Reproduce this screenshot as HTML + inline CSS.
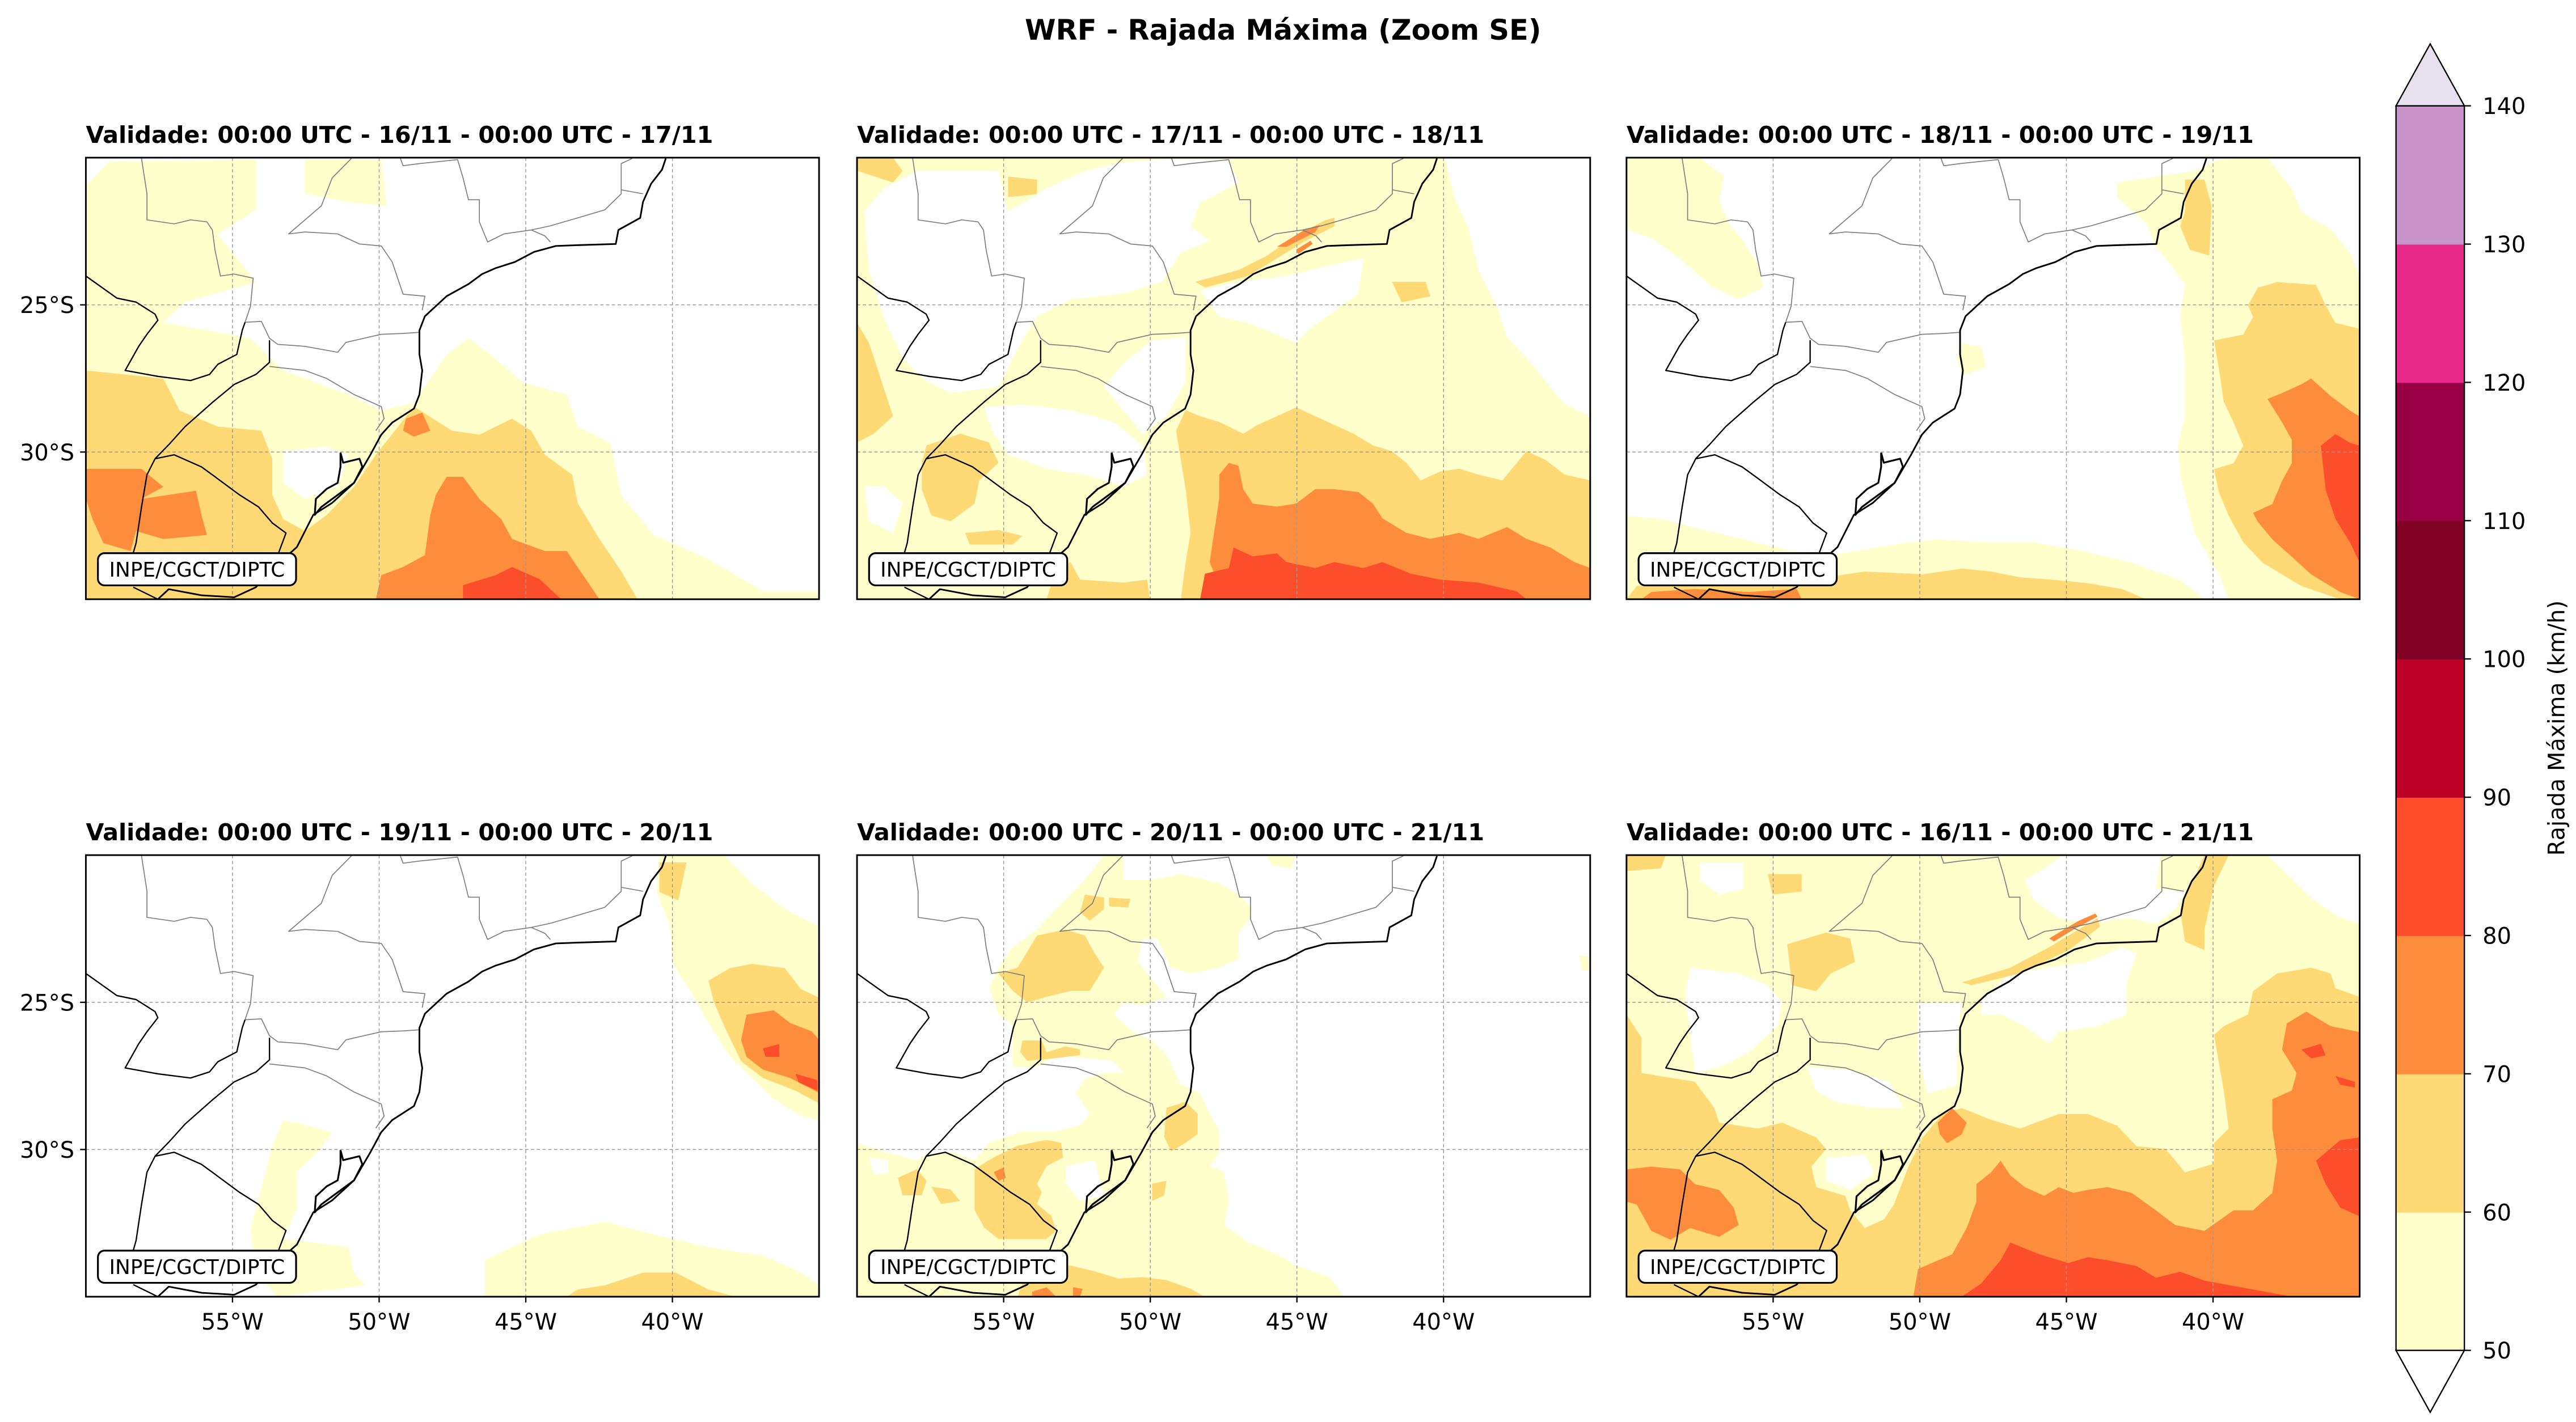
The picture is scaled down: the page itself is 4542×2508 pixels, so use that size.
<!DOCTYPE html>
<html><head><meta charset="utf-8"><title>WRF - Rajada Máxima (Zoom SE)</title>
<style>html,body{margin:0;padding:0;background:#fff;overflow:hidden}svg{display:block;font-family:"DejaVu Sans","Liberation Sans",sans-serif}</style>
</head><body>
<svg id="fig" width="4542" height="2508" viewBox="0 0 1560 861.4" preserveAspectRatio="none" xmlns="http://www.w3.org/2000/svg">
<rect width="1560" height="861.4" fill="#fff"/>
<text x="777" y="24" text-anchor="middle" font-size="17" font-weight="bold">WRF - Rajada Máxima (Zoom SE)</text>
<g id="panels"></g>
<g id="cbar"></g>
</svg>
<script>
// ---- colorbar data ----
const levels=[50,60,70,80,90,100,110,120,130,140];
const levelColors=["#ffffcc","#fed976","#fd8d3c","#fc4e2a","#bd0026","#800026","#980043","#e7298a","#c994c7"];
const overColor="#e7e1ef";
const lonTicks=[-55,-50,-45,-40];
const latTicks=[-25,-30];
const lonRange=[-60,-35], latRange=[-20,-35];
const panelTitles=["Validade: 00:00 UTC - 16/11 - 00:00 UTC - 17/11","Validade: 00:00 UTC - 17/11 - 00:00 UTC - 18/11","Validade: 00:00 UTC - 18/11 - 00:00 UTC - 19/11","Validade: 00:00 UTC - 19/11 - 00:00 UTC - 20/11","Validade: 00:00 UTC - 20/11 - 00:00 UTC - 21/11","Validade: 00:00 UTC - 16/11 - 00:00 UTC - 21/11"];
const PX=[52,519,985], PY=[95.5,518], PW=444, PH=267.5;
// geography (reference-frame coords)
const coast=[[1222,112],[1215,140],[1195,175],[1180,220],[1175,260],[1135,290],[1130,325],[1060,328],[1020,330],[980,345],[945,370],[910,385],[885,400],[860,425],[820,455],[800,480],[780,505],[770,540],[770,600],[775,640],[770,700],[760,735],[720,770],[700,800],[680,850],[650,920],[610,970],[575,1000],[545,1080],[520,1110],[500,1135],[470,1180],[430,1205],[370,1200],[310,1185],[290,1210]];
const lagoon=[[625,845],[630,870],[660,860],[665,880],[650,920],[620,950],[590,980],[578,1000],[580,960],[600,935],[620,920],[625,880],[625,845]];
const borderBlack=[
[[158,405],[215,460],[250,470],[285,500],[290,515],[270,550],[255,580],[230,640],[290,655],[350,665],[385,650],[400,625],[435,600],[445,540],[450,520]],
[[495,565],[495,620],[470,650],[430,675],[390,720],[340,780],[310,825],[285,860],[270,900],[260,980],[250,1070],[245,1095]],
[[285,860],[320,850],[370,880],[395,905],[440,950],[475,980],[500,1020],[525,1045],[510,1100],[505,1130]],
[[245,1180],[290,1210]]];
const borderGray=[
[[450,520],[460,480],[465,410],[430,400],[405,405],[395,340],[390,290],[380,270],[350,265],[320,275],[270,265],[270,200],[260,112]],
[[450,520],[480,518],[495,560],[510,575],[560,580],[620,595],[635,570],[700,550],[740,548],[770,545]],
[[495,630],[560,640],[600,660],[650,700],[700,730],[705,760],[690,790]],
[[775,490],[780,455],[740,450],[720,370],[700,330],[660,325],[620,300],[560,295],[530,300],[590,230],[610,160],[645,112]],
[[735,112],[740,130],[770,125],[840,115],[850,160],[860,215],[880,215],[880,270],[895,320],[925,300],[975,290],[1010,280],[1060,260],[1110,240],[1140,200],[1140,125],[1160,112]],
[[1140,190],[1180,200]],[[975,290],[1000,305],[1010,320]]];
// wind gust fields per panel: [frame, levelIndex(-1 = below 50), points]
const fields=[
[["z1",0,[[158,180],[200,120],[470,115],[470,240],[400,300],[470,420],[340,470],[300,520],[460,560],[520,640],[640,700],[700,740],[760,720],[820,600],[860,560],[900,600],[960,670],[1040,700],[1060,780],[1120,820],[1140,950],[1200,1050],[1300,1110],[1400,1190],[1503,1190],[1503,1210],[158,1210]]],
 ["z1",0,[[560,115],[700,115],[710,230],[640,220],[560,200]]],
 ["z1",-1,[[520,840],[600,830],[640,850],[620,930],[560,960],[520,920]]],
 ["z1",1,[[158,640],[300,660],[330,740],[400,780],[480,790],[500,860],[500,950],[520,1010],[560,1040],[600,1000],[650,930],[690,850],[760,730],[830,790],[880,800],[940,760],[975,790],[1000,850],[1050,900],[1060,970],[1100,1060],[1140,1140],[1170,1210],[158,1210]]],
 ["z1",2,[[800,1210],[690,1210],[700,1150],[740,1130],[780,1100],[790,1000],[800,950],[820,905],[850,905],[880,960],[920,1010],[940,1060],[1000,1090],[1040,1090],[1070,1150],[1100,1210]]],
 ["z1",2,[[158,885],[260,885],[300,930],[260,960],[360,940],[370,1000],[380,1050],[300,1060],[250,1040],[240,1090],[190,1070],[170,1010],[158,960]]],
 ["z1",2,[[745,760],[775,745],[790,790],[760,805],[740,790]]],
 ["z1",3,[[850,1210],[850,1175],[910,1150],[940,1130],[990,1160],[1030,1210]]]],
[["A",0,[[5,15],[1533,15],[1533,1527],[5,1527]]],
 ["A",-1,[[1230,15],[1533,15],[1533,900],[1480,860],[1440,780],[1400,700],[1360,630],[1340,530],[1300,400],[1280,260],[1250,150]]],
 ["A",-1,[[130,60],[300,60],[320,200],[400,120],[480,60],[560,30],[650,20],[780,20],[800,100],[720,170],[700,250],[740,300],[680,340],[640,440],[560,480],[450,500],[380,560],[350,640],[330,700],[300,800],[200,820],[150,780],[100,700],[60,560],[30,400],[20,200],[60,120]]],
 ["A",-1,[[620,640],[690,630],[690,780],[650,900],[600,960],[560,880],[520,800],[560,720]]],
 ["A",-1,[[270,870],[350,860],[450,880],[540,920],[600,1000],[610,1100],[560,1140],[480,1100],[400,1080],[320,1030],[290,960]]],
 ["A",-1,[[720,470],[800,440],[900,420],[1000,380],[1060,360],[1050,480],[1000,540],[950,600],[920,650],[880,620],[820,580],[760,560]]],
 ["A",-1,[[20,1140],[60,1140],[100,1200],[80,1300],[30,1260]]],
 ["A",1,[[5,580],[30,650],[60,800],[80,900],[40,960],[5,990]]],
 ["A",1,[[150,1000],[220,960],[280,990],[300,1060],[260,1120],[250,1200],[200,1260],[160,1240],[140,1150],[140,1060]]],
 ["A",1,[[230,1300],[300,1290],[350,1310],[330,1340],[240,1340]]],
 ["A",1,[[400,1527],[420,1420],[450,1400],[470,1460],[560,1470],[610,1460],[615,1527]]],
 ["A",1,[[680,1527],[690,1400],[700,1300],[690,1150],[680,1050],[670,950],[690,880],[720,900],[760,920],[810,960],[840,930],[880,900],[920,870],[960,900],[1000,930],[1040,960],[1080,1000],[1120,1020],[1150,1060],[1180,1120],[1220,1090],[1260,1080],[1300,1100],[1350,1120],[1400,1020],[1440,1050],[1480,1100],[1533,1120],[1533,1527]]],
 ["A",1,[[710,440],[800,400],[860,350],[920,280],[980,230],[1000,220],[1000,250],[940,300],[880,360],[820,420],[730,460]]],
 ["A",1,[[5,15],[80,15],[100,60],[80,100],[5,60]]],
 ["A",1,[[320,80],[380,90],[380,140],[320,150]]],
 ["A",1,[[1120,440],[1190,440],[1200,490],[1140,510]]],
 ["A",2,[[770,1527],[740,1400],[750,1290],[760,1180],[760,1100],[780,1060],[800,1070],[810,1150],[830,1200],[880,1210],[920,1200],[960,1150],[1000,1150],[1050,1160],[1080,1200],[1100,1250],[1150,1300],[1200,1320],[1260,1300],[1300,1320],[1360,1280],[1400,1320],[1450,1350],[1500,1400],[1533,1420],[1533,1527]]],
 ["A",2,[[880,320],[940,260],[970,245],[960,270],[900,320]]],
 ["A",2,[[920,330],[950,300],[955,310],[925,345]]],
 ["A",3,[[720,1527],[730,1440],[780,1420],[790,1350],[830,1380],[880,1370],[900,1400],[960,1420],[1000,1400],[1060,1420],[1100,1400],[1160,1440],[1220,1460],[1300,1470],[1380,1500],[1400,1527]]]],
[["B",0,[[9,15],[160,15],[210,80],[200,160],[220,240],[250,300],[280,380],[290,460],[240,500],[180,450],[120,360],[60,290],[9,260]]],
 ["B",0,[[1020,100],[1100,80],[1180,60],[1230,20],[1330,15],[1380,120],[1400,200],[1460,260],[1500,340],[1520,420],[1520,1525],[1250,1525],[1230,1440],[1180,1300],[1150,1100],[1145,1000],[1160,900],[1160,700],[1150,560],[1160,450],[1130,380],[1100,320],[1080,240],[1020,150]]],
 ["B",0,[[9,1240],[80,1250],[150,1280],[250,1320],[350,1360],[450,1370],[550,1340],[650,1320],[750,1330],[850,1330],[950,1360],[1050,1400],[1150,1460],[1200,1525],[9,1525]]],
 ["B",0,[[700,650],[740,660],[750,730],[700,760],[690,700]]],
 ["B",1,[[1160,90],[1200,90],[1215,180],[1210,350],[1170,330],[1150,250],[1160,200]]],
 ["B",1,[[1290,520],[1310,460],[1350,440],[1430,450],[1450,520],[1470,580],[1520,600],[1520,1525],[1480,1525],[1400,1480],[1320,1400],[1280,1330],[1250,1240],[1230,1160],[1220,1080],[1260,1060],[1280,1000],[1260,920],[1240,850],[1230,740],[1220,640],[1280,620],[1300,560]]],
 ["B",1,[[9,1525],[30,1480],[100,1460],[300,1470],[420,1450],[500,1430],[620,1440],[700,1420],[760,1430],[820,1450],[900,1460],[960,1470],[1030,1490],[1080,1525]]],
 ["B",2,[[1330,840],[1360,820],[1400,790],[1420,770],[1460,830],[1500,880],[1520,900],[1520,1525],[1480,1500],[1420,1440],[1380,1380],[1340,1320],[1310,1260],[1300,1230],[1340,1200],[1360,1120],[1380,1060],[1380,980],[1360,920]]],
 ["B",2,[[40,1525],[60,1500],[150,1490],[260,1500],[360,1490],[370,1525]]],
 ["B",3,[[1440,1000],[1470,960],[1500,990],[1520,1000],[1520,1400],[1500,1330],[1470,1250],[1450,1150]]]],
[["z2",0,[[1210,215],[1270,215],[1330,215],[1380,280],[1440,340],[1500,380],[1503,840],[1470,830],[1420,790],[1380,740],[1340,690],[1300,610],[1270,540],[1235,470],[1230,380],[1205,300]]],
 ["z2",0,[[890,1257],[890,1170],[990,1110],[1110,1080],[1200,1110],[1300,1140],[1400,1160],[1470,1200],[1503,1230],[1503,1257]]],
 ["z2",0,[[520,840],[560,850],[610,870],[580,920],[545,960],[545,1050],[520,1120],[640,1140],[650,1200],[670,1230],[510,1257],[470,1200],[460,1100],[480,1000],[500,900]]],
 ["z2",1,[[1300,510],[1340,480],[1380,470],[1440,480],[1470,530],[1503,550],[1503,800],[1460,770],[1400,740],[1360,700],[1330,620],[1310,560]]],
 ["z2",1,[[1210,230],[1260,230],[1245,320],[1210,300]]],
 ["z2",1,[[1040,1257],[1060,1240],[1110,1230],[1180,1200],[1240,1200],[1300,1240],[1350,1257]]],
 ["z2",2,[[1370,590],[1420,580],[1450,610],[1490,630],[1503,650],[1503,775],[1450,740],[1400,720],[1370,690],[1360,650]]],
 ["z2",3,[[1400,670],[1430,660],[1430,690],[1405,690]]],
 ["z2",3,[[1460,730],[1500,745],[1500,770],[1465,750]]]],
[["A",0,[[520,15],[560,15],[560,100],[620,100],[680,80],[760,110],[800,150],[830,200],[820,240],[800,280],[800,370],[760,400],[700,420],[660,400],[630,300],[600,300],[590,380],[620,440],[650,500],[600,530],[560,520],[540,560],[580,620],[620,650],[650,700],[680,800],[720,830],[740,900],[760,960],[760,1030],[740,1080],[770,1100],[780,1200],[770,1280],[820,1340],[880,1380],[920,1420],[990,1460],[1020,1527],[5,1527],[5,1000],[60,1030],[130,1060],[150,1040],[200,1030],[250,1060],[280,1000],[350,960],[420,960],[470,940],[490,900],[460,830],[480,780],[520,760],[560,760],[540,720],[420,700],[380,740],[330,740],[330,600],[300,560],[280,470],[300,400],[330,330],[380,270],[420,200],[450,150],[480,100]]],
 ["A",0,[[860,15],[920,15],[910,60],[870,50]]],
 ["A",0,[[1510,360],[1530,360],[1530,410],[1515,410]]],
 ["A",-1,[[440,1080],[500,1060],[520,1180],[470,1200],[440,1140]]],
 ["A",-1,[[30,1050],[70,1060],[70,1100],[40,1110]]],
 ["A",1,[[300,420],[340,400],[380,290],[440,270],[480,290],[500,350],[520,400],[490,480],[450,480],[400,500],[360,520],[330,480]]],
 ["A",1,[[480,150],[520,160],[520,200],[490,240],[470,210]]],
 ["A",1,[[530,160],[575,165],[570,195],[530,190]]],
 ["A",1,[[350,650],[390,650],[400,690],[440,670],[470,680],[470,700],[420,710],[360,720],[345,690]]],
 ["A",1,[[650,880],[690,860],[715,900],[715,970],[690,1000],[660,1030],[645,980]]],
 ["A",1,[[250,1090],[290,1050],[340,1010],[400,990],[430,1000],[435,1050],[400,1080],[380,1140],[390,1170],[380,1210],[410,1250],[420,1300],[400,1330],[360,1330],[300,1330],[270,1290],[250,1230],[250,1150]]],
 ["A",1,[[90,1120],[130,1090],[150,1130],[140,1180],[100,1180]]],
 ["A",1,[[160,1150],[200,1160],[220,1200],[180,1210]]],
 ["A",1,[[350,1480],[400,1430],[450,1420],[500,1440],[550,1465],[600,1460],[650,1470],[700,1500],[730,1527],[340,1527]]],
 ["A",1,[[620,1140],[650,1130],[645,1180],[620,1200]]],
 ["A",2,[[290,1100],[310,1085],[315,1120],[300,1130]]],
 ["A",2,[[370,1510],[400,1495],[420,1527],[370,1527]]],
 ["A",2,[[455,1495],[475,1500],[470,1527],[455,1527]]]],
[["B",0,[[9,15],[1520,15],[1520,1525],[9,1525]]],
 ["B",-1,[[1330,15],[1520,15],[1520,250],[1470,220],[1420,160],[1370,80]]],
 ["B",-1,[[910,15],[1110,15],[1100,130],[1160,140],[1140,200],[1100,250],[1040,230],[960,250],[900,230],[850,170],[830,100],[870,60]]],
 ["B",-1,[[740,510],[800,420],[880,400],[960,380],[1030,330],[1060,350],[1040,450],[1040,560],[980,600],[900,620],[880,660],[830,600],[780,560],[740,560]]],
 ["B",-1,[[140,400],[240,420],[300,460],[330,520],[320,600],[260,690],[200,740],[150,760],[140,620],[130,500]]],
 ["B",-1,[[610,520],[700,520],[690,650],[690,800],[630,830],[610,700]]],
 ["B",-1,[[380,740],[470,750],[550,790],[580,880],[520,880],[440,860],[400,820]]],
 ["B",-1,[[160,40],[250,40],[250,130],[200,150],[160,100]]],
 ["B",-1,[[420,1050],[500,1040],[520,1100],[470,1160],[420,1130]]],
 ["B",1,[[9,560],[40,640],[40,760],[150,790],[190,880],[200,930],[280,950],[330,930],[400,980],[420,1020],[390,1080],[400,1150],[460,1180],[470,1230],[500,1290],[540,1260],[560,1210],[590,1080],[620,980],[660,900],[700,880],[760,920],[820,950],[900,900],[960,900],[1020,940],[1060,1010],[1120,1020],[1160,1100],[1220,1070],[1220,1000],[1250,950],[1240,820],[1220,630],[1240,600],[1290,560],[1300,480],[1350,420],[1420,400],[1460,420],[1470,470],[1520,500],[1520,1525],[9,1525]]],
 ["B",1,[[9,15],[90,15],[80,60],[9,70]]],
 ["B",1,[[1200,15],[1250,15],[1220,120],[1200,270],[1200,340],[1160,310],[1150,200]]],
 ["B",1,[[700,450],[800,400],[880,330],[950,260],[980,230],[985,260],[920,340],[820,420],[720,460]]],
 ["B",1,[[340,320],[420,280],[470,300],[480,380],[430,420],[400,480],[350,460]]],
 ["B",1,[[300,80],[370,80],[370,140],[310,150]]],
 ["B",2,[[600,1525],[610,1430],[680,1380],[710,1290],[730,1200],[730,1140],[760,1100],[780,1060],[800,1110],[830,1150],[870,1180],[900,1150],[930,1170],[960,1160],[1000,1150],[1050,1170],[1100,1230],[1140,1280],[1200,1300],[1260,1230],[1300,1230],[1340,1170],[1350,1060],[1340,950],[1340,850],[1380,820],[1390,760],[1360,680],[1370,590],[1410,550],[1460,600],[1520,620],[1520,1525]]],
 ["B",2,[[9,1090],[60,1080],[120,1090],[150,1140],[200,1160],[230,1220],[240,1280],[200,1320],[140,1290],[100,1330],[60,1300],[30,1210],[9,1200]]],
 ["B",2,[[650,930],[680,880],[710,930],[700,970],[670,1000],[655,970]]],
 ["B",2,[[880,300],[940,240],[975,215],[980,225],[930,270],[890,310]]],
 ["B",3,[[700,1525],[740,1480],[780,1400],[800,1340],[860,1380],[920,1410],[960,1390],[1000,1400],[1060,1420],[1100,1460],[1150,1440],[1200,1470],[1300,1500],[1380,1525]]],
 ["B",3,[[1430,1060],[1480,990],[1520,980],[1520,1250],[1480,1220],[1450,1140]]],
 ["B",3,[[1400,680],[1440,660],[1450,700],[1420,710]]],
 ["B",3,[[1470,770],[1510,790],[1510,810],[1480,800]]]]
];
const NS="http://www.w3.org/2000/svg";
const frames={z1:[158,1503,110,1210],z2:[158,1503,213,1257],A:[5,1533,15,1527],B:[9,1520,15,1525]};
function mk(tag,attrs,parent){const e=document.createElementNS(NS,tag);for(const k in attrs)e.setAttribute(k,attrs[k]);if(parent)parent.appendChild(e);return e;}
function toRel(f,p){const F=frames[f];return[(p[0]-F[0])*PW/(F[1]-F[0]),(p[1]-F[2])*PH/(F[3]-F[2])];}
function xLon(lon){return (lon-lonRange[0])/(lonRange[1]-lonRange[0])*PW;}
function yLat(lat){return (lat-latRange[0])/(latRange[1]-latRange[0])*PH;}
const G=document.getElementById('panels');
for(let i=0;i<6;i++){
  const x0=PX[i%3],y0=PY[Math.floor(i/3)];
  const g=mk('g',{transform:`translate(${x0},${y0})`},G);
  
  
  const cp=mk('clipPath',{id:'cp'+i},g);mk('rect',{x:0,y:0,width:PW,height:PH},cp);
  const inner=mk('g',{'clip-path':`url(#cp${i})`},g);
  fields[i].forEach(([f,l,pts])=>{
    const d='M'+pts.map(p=>toRel(f,p).map(v=>v.toFixed(1)).join(',')).join('L')+'Z';
    const e=mk('path',{d:d,fill:l<0?'#fff':levelColors[l],stroke:'none'},inner);
    
    
  });
  lonTicks.forEach(v=>{const e=mk('line',{x1:xLon(v),x2:xLon(v),y1:0,y2:PH,stroke:'#999','stroke-width':0.5,'stroke-dasharray':'2,1.5'},inner);});
  latTicks.forEach(v=>{const e=mk('line',{x1:0,x2:PW,y1:yLat(v),y2:yLat(v),stroke:'#999','stroke-width':0.5,'stroke-dasharray':'2,1.5'},inner);});
  const line=(pts,col,w,nm)=>{const e=mk('path',{d:'M'+pts.map(p=>toRel('z1',p).map(v=>v.toFixed(1)).join(',')).join('L'),fill:'none',stroke:col,'stroke-width':w,'stroke-linejoin':'round'},inner);};
  borderGray.forEach(b=>line(b,'#808080',0.6,'state-border'));
  borderBlack.forEach(b=>line(b,'#000',0.8,'country-border'));
  line(coast,'#000',1,'coastline');line(lagoon,'#000',1.1,'lagoon');
  const lb=mk('g',{},g);
  mk('rect',{x:7.3,y:239.6,width:120,height:19.5,rx:4,fill:'#fff',stroke:'#000','stroke-width':1.1},lb);
  const lt=mk('text',{x:67.3,y:253.8,'text-anchor':'middle','font-size':12.3},lb);lt.textContent='INPE/CGCT/DIPTC';
  const fr=mk('rect',{x:0,y:0,width:PW,height:PH,fill:'none',stroke:'#000','stroke-width':1},g);
  
  const t=mk('text',{x:0,y:-9,'font-size':14.2,'font-weight':'bold'},g);t.textContent=panelTitles[i];
  
  if(i%3===0){latTicks.forEach(v=>{mk('line',{x1:-3.5,x2:0,y1:yLat(v),y2:yLat(v),stroke:'#000','stroke-width':0.8},g);const e=mk('text',{x:-7,y:yLat(v)+5,'text-anchor':'end','font-size':13.7},g);e.textContent=Math.abs(v)+'°S';});}
  if(i>=3){lonTicks.forEach(v=>{mk('line',{x1:xLon(v),x2:xLon(v),y1:PH,y2:PH+3.5,stroke:'#000','stroke-width':0.8},g);const e=mk('text',{x:xLon(v),y:PH+20,'text-anchor':'middle','font-size':13.7},g);e.textContent=Math.abs(v)+'°W';});}
}
// colorbar
const C=document.getElementById('cbar');const cx0=1451,cw=41.4,cyTop=64.1,cyBot=818;
const yV=v=>cyBot-(v-levels[0])/(levels[levels.length-1]-levels[0])*(cyBot-cyTop);
for(let k=0;k<levelColors.length;k++){const e=mk('rect',{x:cx0,y:yV(levels[k+1]),width:cw,height:yV(levels[k])-yV(levels[k+1])+0.3,fill:levelColors[k]},C);}
const ov=mk('path',{d:`M${cx0},${cyTop}L${cx0+cw/2},26.6L${cx0+cw},${cyTop}Z`,fill:overColor,stroke:'#000','stroke-width':0.8},C);
const un=mk('path',{d:`M${cx0},${cyBot}L${cx0+cw/2},855.5L${cx0+cw},${cyBot}Z`,fill:'#fff',stroke:'#000','stroke-width':0.8},C);
mk('rect',{x:cx0,y:cyTop,width:cw,height:cyBot-cyTop,fill:'none',stroke:'#000','stroke-width':0.8},C);
levels.forEach(v=>{mk('line',{x1:cx0+cw,x2:cx0+cw+4,y1:yV(v),y2:yV(v),stroke:'#000','stroke-width':0.8},C);const e=mk('text',{x:cx0+cw+11,y:yV(v)+5,'font-size':13.7},C);e.textContent=v;});
const cl=mk('text',{x:0,y:0,'font-size':13.7,'text-anchor':'middle',transform:'translate(1553,441) rotate(-90)'},C);cl.textContent='Rajada Máxima (km/h)';
</script>
</body></html>
